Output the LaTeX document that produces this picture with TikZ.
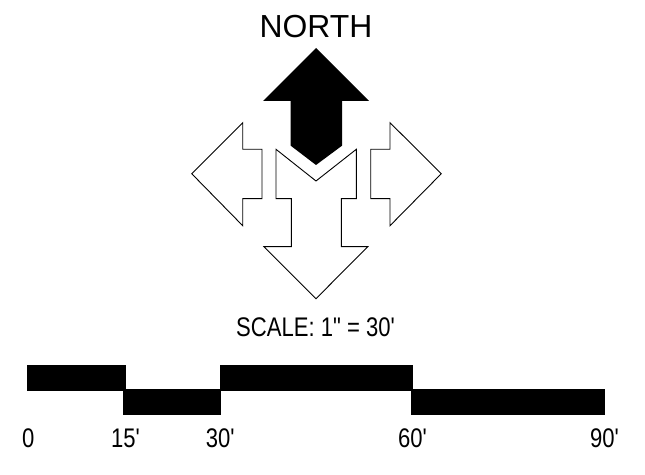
\documentclass[tikz,border=0pt]{standalone}
\usepackage{fontspec}
\newfontfamily\plainsans{Liberation Sans}
\tikzset{
  whitearrow/.style={draw=black,fill=white,line width=0.9bp,line join=miter},
  blackfill/.style={fill=black,draw=none},
  barseg/.style={fill=black,draw=black,line width=0.5bp},
  lbl/.style={inner sep=0pt,text=black,anchor=center},
  small/.style={lbl,font=\plainsans\fontsize{27}{27}\selectfont,xscale=0.82}
}
\begin{document}
\begin{tikzpicture}[x=1bp,y=-1bp]
\useasboundingbox (0,0) rectangle (645,475);
\fill[white] (0,0) rectangle (645,475);
\node[lbl,font=\plainsans\fontsize{32}{32}\selectfont] (north) at (316,26.5) {NORTH};
\path[blackfill] (316,48) -- (369,101) -- (342,101) -- (342,145.7) -- (316,165) -- (290.7,145.7) -- (290.7,101) -- (263,101) -- cycle;
\path[whitearrow] (276,149.3) -- (316,181) -- (356.3,149.3) -- (356.3,198.7) -- (341.3,198.7) -- (341.3,246.7) -- (367.7,246.7) -- (316,298.7) -- (264,246.7) -- (291.3,246.7) -- (291.3,198.7) -- (276,198.7) -- cycle;
\path[whitearrow] (191.7,173.7) -- (242.7,122.7) -- (242.7,149.3) -- (262,149.3) -- (262,198.7) -- (242.7,198.7) -- (242.7,225.7) -- cycle;
\path[whitearrow] (441.3,173.7) -- (390,122.7) -- (390,149.3) -- (370.7,149.3) -- (370.7,198.7) -- (390,198.7) -- (390,225.7) -- cycle;
\node[small] (scale) at (315.5,327) {SCALE: 1" = 30'};
\path[barseg] (27.7,365.7) rectangle (125,390.3);
\path[barseg] (123.7,389.3) rectangle (220.7,414.3);
\path[barseg] (220,365.7) rectangle (412.7,390.3);
\path[barseg] (411.7,389.3) rectangle (604.7,414.3);
\node[small] (t0) at (28.3,438.5) {0};
\node[small] (t15) at (125.5,438.5) {15'};
\node[small] (t30) at (220.3,438.5) {30'};
\node[small] (t60) at (412.5,438.5) {60'};
\node[small] (t90) at (604.5,438.5) {90'};
\end{tikzpicture}
\end{document}
